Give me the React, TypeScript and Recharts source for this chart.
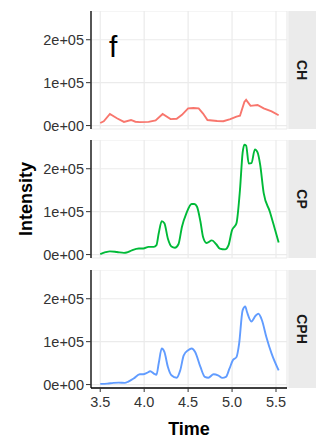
import React from 'react';
import { LineChart, Line, XAxis, YAxis, CartesianGrid } from 'recharts';

// ---- data ----
const chTime = [3.50, 3.54, 3.61, 3.69, 3.77, 3.85, 3.90, 3.95, 4.05, 4.13, 4.21, 4.30, 4.37, 4.43, 4.50, 4.56, 4.62, 4.67, 4.72, 4.83, 4.90, 4.98, 5.05, 5.09, 5.14, 5.16, 5.21, 5.29, 5.36, 5.45, 5.53];
const chValues = [6000, 10000, 27000, 17000, 8500, 13000, 9000, 8000, 8500, 12000, 27000, 15000, 16000, 25000, 40000, 41000, 40000, 28000, 13000, 10500, 10000, 15000, 21000, 23000, 55000, 60000, 46000, 48000, 40000, 33000, 24000];

const cpTime = [3.50, 3.56, 3.61, 3.69, 3.77, 3.80, 3.86, 3.94, 3.99, 4.05, 4.11, 4.14, 4.165, 4.20, 4.23, 4.27, 4.31, 4.35, 4.39, 4.43, 4.48, 4.54, 4.57, 4.60, 4.64, 4.67, 4.71, 4.77, 4.82, 4.86, 4.92, 4.96, 5.00, 5.03, 5.05, 5.09, 5.12, 5.14, 5.16, 5.19, 5.22, 5.26, 5.29, 5.32, 5.36, 5.43, 5.49, 5.53];
const cpValues = [1000, 5500, 7500, 6000, 4000, 4700, 10000, 14000, 14000, 18000, 18000, 22000, 49000, 78000, 73000, 37000, 19000, 16000, 24000, 65000, 96000, 118000, 118000, 112000, 77000, 41000, 27000, 33000, 24000, 14000, 12000, 22000, 57000, 66000, 73000, 151000, 237000, 256000, 254000, 212000, 213000, 245000, 238000, 209000, 143000, 100000, 57000, 28000];

const cphTime = [3.50, 3.58, 3.65, 3.71, 3.78, 3.82, 3.88, 3.95, 3.99, 4.03, 4.07, 4.11, 4.14, 4.165, 4.20, 4.23, 4.27, 4.31, 4.37, 4.41, 4.45, 4.50, 4.54, 4.58, 4.64, 4.69, 4.73, 4.79, 4.84, 4.89, 4.93, 4.97, 5.01, 5.05, 5.08, 5.12, 5.15, 5.17, 5.22, 5.27, 5.30, 5.34, 5.39, 5.45, 5.53];
const cphValues = [1500, 2300, 3900, 4600, 3900, 7000, 14000, 24000, 24000, 27000, 31000, 25600, 23000, 49000, 84000, 76000, 41000, 21700, 16000, 33000, 68000, 80000, 84000, 76000, 41000, 18000, 16000, 24000, 21700, 15500, 17800, 37000, 57000, 64000, 95000, 173000, 182000, 169000, 147000, 161000, 165000, 150000, 111000, 72000, 33000];

const xTicks = [3.5, 4.0, 4.5, 5.0, 5.5];
const yTicks = [0, 100000, 200000];
const yTickLabels = ['0e+00', '1e+05', '2e+05'];
const panelLabels = ['CH', 'CP', 'CPH'];
const panelColors = ['#F8766D', '#00BA38', '#619CFF'];
const xTitle = 'Time';
const yTitle = 'Intensity';
const tagLabel = 'f';

const toRows = (t: number[], v: number[]) => t.map((time, i) => ({ time, value: v[i] }));
const series = [toRows(chTime, chValues), toRows(cpTime, cpValues), toRows(cphTime, cphValues)];
const curveTypes: ('linear' | 'monotone')[] = ['linear', 'monotone', 'monotone'];

// ---- layout ----
const W = 316;
const H = 439;
const plotLeft = 91;
const plotRight = 287;
const panelTops = [11, 140, 270];
const panelH = 118;
const xAxisH = 30;
const padBottom = 8;
const FONT = '"Liberation Sans", Arial, Helvetica, sans-serif';

const tickStyle = { fontSize: 14.5, fill: '#333333', fontFamily: FONT };

function Panel({ idx }: { idx: number }) {
  const last = idx === 2;
  return (
    <div style={{ position: 'absolute', left: 0, top: panelTops[idx] }}>
      <LineChart
        width={W}
        height={panelH + (last ? xAxisH : padBottom)}
        data={series[idx]}
        margin={{ top: 0, right: W - plotRight, bottom: last ? 0 : padBottom, left: 0 }}
      >
        <CartesianGrid stroke="#EBEBEB" strokeWidth={1.2} />
        <XAxis
          dataKey="time"
          type="number"
          domain={[3.395, 5.625]}
          allowDataOverflow
          ticks={xTicks}
          tickFormatter={(v: number) => v.toFixed(1)}
          hide={!last}
          height={xAxisH}
          axisLine={{ stroke: '#000', strokeWidth: 1.3 }}
          tickLine={{ stroke: '#333' }}
          tickSize={4}
          tickMargin={5}
          tick={tickStyle}
          interval={0}
        />
        <YAxis
          type="number"
          domain={[-8000, 267000]}
          allowDataOverflow
          ticks={yTicks}
          tickFormatter={(v: number) => yTickLabels[yTicks.indexOf(v)]}
          width={plotLeft}
          axisLine={{ stroke: '#000', strokeWidth: 1.3 }}
          tickLine={{ stroke: '#333' }}
          tickSize={5}
          tickMargin={2}
          tick={tickStyle}
          interval={0}
        />
        <Line
          type={curveTypes[idx]}
          dataKey="value"
          stroke={panelColors[idx]}
          strokeWidth={1.9}
          dot={false}
          isAnimationActive={false}
        />
      </LineChart>
    </div>
  );
}

export default function App() {
  const stripX = plotRight + 1.3;
  return (
    <div style={{ position: 'absolute', left: 0, top: 0, width: W, height: H, background: '#fff', overflow: 'hidden' }}>
      {[0, 1, 2].map((i) => (
        <Panel key={i} idx={i} />
      ))}
      <svg width={W} height={H} style={{ position: 'absolute', left: 0, top: 0, pointerEvents: 'none' }}>
        {panelLabels.map((lab, i) => (
          <g key={lab}>
            <rect x={stripX} y={panelTops[i]} width={W - stripX} height={panelH} fill="#EBEBEB" />
            <g transform={`translate(${(stripX + W) / 2},${panelTops[i] + panelH / 2}) rotate(90)`}>
              <text x={0} y={5} textAnchor="middle" fontFamily={FONT} fontWeight="bold" fontSize={14} fill="#1a1a1a">
                {lab}
              </text>
            </g>
          </g>
        ))}
        <g transform={`translate(25,199) rotate(-90)`}>
          <text x={0} y={6.5} textAnchor="middle" fontFamily={FONT} fontWeight="bold" fontSize={18} fill="#000">
            {yTitle}
          </text>
        </g>
        <text x={(plotLeft + plotRight) / 2} y={435} textAnchor="middle" fontFamily={FONT} fontWeight="bold" fontSize={18} fill="#000">
          {xTitle}
        </text>
        <text x={109} y={57} fontFamily={FONT} fontSize={30} fill="#000">
          {tagLabel}
        </text>
      </svg>
    </div>
  );
}
